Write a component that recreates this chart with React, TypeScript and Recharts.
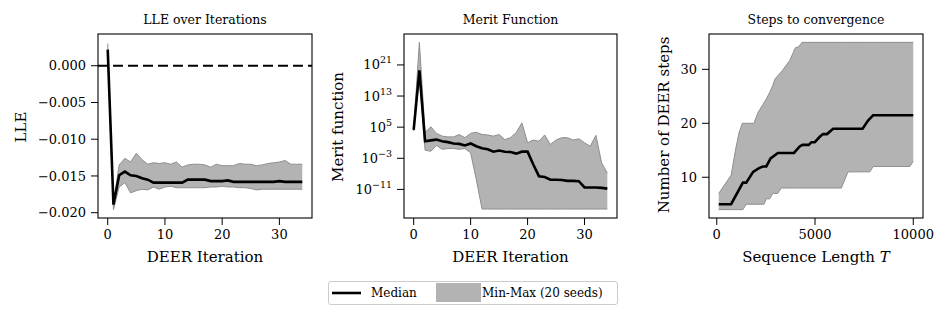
import React from 'react';
import { ComposedChart, Area, Line, XAxis, YAxis, ReferenceLine } from 'recharts';

const FONT = '"DejaVu Serif", serif';

// ---------- Panel 1: LLE over iterations ----------
const iterations = [0, 1, 2, 3, 4, 5, 6, 7, 8, 9, 10, 11, 12, 13, 14, 15, 16, 17, 18, 19, 20, 21, 22, 23, 24, 25, 26, 27, 28, 29, 30, 31, 32, 33, 34];
const lleMedian = [0.0022, -0.0189, -0.0149, -0.0144, -0.0149, -0.015, -0.0153, -0.0155, -0.0159, -0.0159, -0.0159, -0.0159, -0.0159, -0.0159, -0.0155, -0.0155, -0.0155, -0.0155, -0.0157, -0.0157, -0.0157, -0.0156, -0.0158, -0.0158, -0.0158, -0.0158, -0.0158, -0.0158, -0.0158, -0.0158, -0.0157, -0.0158, -0.0158, -0.0158, -0.0158];
const lleMin = [0.0015, -0.0196, -0.0165, -0.0159, -0.0173, -0.017, -0.0168, -0.0169, -0.0165, -0.0168, -0.0165, -0.0164, -0.0166, -0.0166, -0.0166, -0.0166, -0.0166, -0.0166, -0.0165, -0.0165, -0.0164, -0.0165, -0.0165, -0.0166, -0.0166, -0.0167, -0.0169, -0.0168, -0.0168, -0.0168, -0.0168, -0.0168, -0.0168, -0.0168, -0.0168];
const lleMax = [0.003, -0.0186, -0.0135, -0.0126, -0.0131, -0.0119, -0.0128, -0.0134, -0.0132, -0.0133, -0.0132, -0.0134, -0.0131, -0.0138, -0.0135, -0.0134, -0.0134, -0.0135, -0.0138, -0.0134, -0.0136, -0.0136, -0.0136, -0.0133, -0.0134, -0.0134, -0.0136, -0.0135, -0.0133, -0.0132, -0.0131, -0.0129, -0.0134, -0.0134, -0.0134];
const lleTicks = [0, -0.005, -0.01, -0.015, -0.02];
const iterTicks = [0, 10, 20, 30];

// ---------- Panel 2: merit function (log10 values) ----------
const meritMedianLog = [4.3, 19.6, 1.4, 1.6, 1.8, 1.4, 1.15, 0.8, 0.7, 0.3, 0.8, 0.1, -0.4, -0.7, -1.3, -1.0, -1.3, -1.4, -1.8, -1.3, -1.3, -4.6, -7.6, -7.8, -8.5, -8.5, -8.6, -8.8, -8.8, -8.9, -10.5, -10.5, -10.5, -10.6, -10.8];
const meritMinLog = [4.0, 18.0, -0.9, -1.2, 0.3, -0.7, -0.5, -0.5, -0.7, -0.5, -1.6, -8.5, -16.05, -16.05, -16.05, -16.05, -16.05, -16.05, -16.05, -16.05, -16.05, -16.05, -16.05, -16.05, -16.05, -16.05, -16.05, -16.05, -16.05, -16.05, -16.05, -16.05, -16.05, -16.05, -16.05];
const meritMaxLog = [4.6, 26.8, 3.6, 5.1, 3.4, 2.7, 2.5, 2.5, 3.1, 2.3, 3.4, 3.7, 3.1, 3.0, 2.7, 3.1, 1.8, 2.3, 3.6, 6.1, 1.0, 1.7, 1.4, 3.0, 0.55, 1.7, 2.3, 2.3, 1.7, 2.0, 1.0, 0.1, 2.9, -4.2, -6.8];
const meritTickExps = [-11, -3, 5, 13, 21];

// ---------- Panel 3: steps to convergence ----------
const seqLenMedian = [100, 730, 1330, 1500, 1850, 2150, 2350, 2520, 2740, 3110, 3930, 4220, 4360, 4680, 4820, 4990, 5240, 5410, 5610, 5920, 7420, 7700, 7960, 10000];
const stepsMedian = [5, 5, 9, 9, 11, 11.7, 12, 12, 13.5, 14.5, 14.5, 15.7, 16, 16, 16.5, 16.5, 17.5, 18, 18, 19, 19, 20.5, 21.5, 21.5];
const seqLenBand = [100, 735, 950, 1130, 1300, 1330, 1500, 1890, 2100, 2350, 2400, 2520, 2690, 2850, 2950, 3100, 3280, 3340, 3710, 4000, 4170, 4340, 6340, 6680, 7790, 7960, 9830, 10000];
const stepsMin = [4, 4, 4, 4, 4, 4, 5, 5, 5, 5, 5, 6, 6, 7, 7, 7, 8, 8, 8, 8, 8, 8, 8, 11, 11, 12, 12, 13];
const stepsMax = [7, 10.4, 15, 18.2, 20, 20, 20, 20, 22, 23.5, 23.8, 24.5, 25.7, 27, 28.1, 28.8, 29.5, 29.8, 31.6, 34, 34.2, 35, 35, 35, 35, 35, 35, 35];
const seqTicks = [0, 5000, 10000];
const stepsTicks = [10, 20, 30];

// ---------- derived tables ----------
const lleData = iterations.map((x, i) => ({ x, med: lleMedian[i], band: [lleMin[i], lleMax[i]] }));
const meritData = iterations.map((x, i) => ({ x, med: meritMedianLog[i], band: [meritMinLog[i], meritMaxLog[i]] }));
const stepsData = [
  ...seqLenMedian.map((x, i) => ({ x, med: stepsMedian[i], band: [null, null] as any })),
  ...seqLenBand.map((x, i) => ({ x, med: null as any, band: [stepsMin[i], stepsMax[i]] })),
].sort((a, b) => a.x - b.x);

const BAND_FILL = '#b3b3b3';
const BAND_EDGE = '#8e8e8e';
const TICK_STYLE = { fill: '#000', fontSize: 13, fontFamily: FONT };
const minus = (s: string) => s.replace('-', '\u2212');

const H = 260;
const TOP = 34;
const PLOT_BOTTOM = 218;
const XAXIS_H = 30;
const BOTTOM = H - PLOT_BOTTOM - XAXIS_H;

const LogTick = (props: any) => {
  const { x, y, payload } = props;
  const e = payload.value as number;
  return (
    <text x={x} y={y} dy={4.5} textAnchor="end" fontFamily={FONT} fontSize={13} fill="#000">
      10<tspan dy={-6} fontSize={9.5}>{minus(String(e))}</tspan>
    </text>
  );
};

function App() {
  const lleX = [-1.7, 35.7];
  const lleY = [-0.02072, 0.00432];
  const merY = [-18.35, 28.95];
  const stX = [-395, 10495];
  const stY = [2.45, 36.55];

  // plot boxes (left, right) in page pixels; used for frames
  const boxes = [[98, 312], [404, 617], [709, 923]];

  return (
    <div style={{ position: 'absolute', left: 0, top: 0, width: 947, height: 319, background: '#fff' }}>
      {/* Panel 1 */}
      <div style={{ position: 'absolute', left: 0, top: 0 }}>
        <ComposedChart width={330} height={H} data={lleData} margin={{ top: TOP, left: 38, right: 18, bottom: BOTTOM }}>
          <XAxis type="number" dataKey="x" domain={lleX} ticks={iterTicks} interval={0} allowDataOverflow
            height={XAXIS_H} tickSize={7} tickMargin={5} axisLine={false} tickLine={{ stroke: '#000' }} tick={TICK_STYLE} />
          <YAxis type="number" domain={lleY} ticks={lleTicks} interval={0} allowDataOverflow width={60}
            tickSize={7} tickMargin={5} axisLine={false} tickLine={{ stroke: '#000' }} tick={TICK_STYLE}
            tickFormatter={(v: number) => minus(v.toFixed(3))} />
          <Area dataKey="band" type="linear" fill={BAND_FILL} fillOpacity={1} stroke={BAND_EDGE} strokeWidth={1} isAnimationActive={false} dot={false} activeDot={false} />
          <ReferenceLine y={0} stroke="#000" strokeWidth={2} strokeDasharray="10 5" />
          <Line dataKey="med" type="linear" stroke="#000" strokeWidth={2.6} dot={false} activeDot={false} isAnimationActive={false} />
        </ComposedChart>
      </div>

      {/* Panel 2 */}
      <div style={{ position: 'absolute', left: 320, top: 0 }}>
        <ComposedChart width={310} height={H} data={meritData} margin={{ top: TOP, left: 24, right: 13, bottom: BOTTOM }}>
          <XAxis type="number" dataKey="x" domain={lleX} ticks={iterTicks} interval={0} allowDataOverflow
            height={XAXIS_H} tickSize={7} tickMargin={5} axisLine={false} tickLine={{ stroke: '#000' }} tick={TICK_STYLE} />
          <YAxis type="number" domain={merY} ticks={meritTickExps} interval={0} allowDataOverflow width={60}
            tickSize={7} tickMargin={5} axisLine={false} tickLine={{ stroke: '#000' }} tick={<LogTick />} />
          <Area dataKey="band" type="linear" fill={BAND_FILL} fillOpacity={1} stroke={BAND_EDGE} strokeWidth={1} isAnimationActive={false} dot={false} activeDot={false} />
          <Line dataKey="med" type="linear" stroke="#000" strokeWidth={2.6} dot={false} activeDot={false} isAnimationActive={false} />
        </ComposedChart>
      </div>

      {/* Panel 3 */}
      <div style={{ position: 'absolute', left: 640, top: 0 }}>
        <ComposedChart width={307} height={H} data={stepsData} margin={{ top: TOP, left: 19, right: 24, bottom: BOTTOM }}>
          <XAxis type="number" dataKey="x" domain={stX} ticks={seqTicks} interval={0} allowDataOverflow
            height={XAXIS_H} tickSize={7} tickMargin={5} axisLine={false} tickLine={{ stroke: '#000' }} tick={TICK_STYLE} />
          <YAxis type="number" domain={stY} ticks={stepsTicks} interval={0} allowDataOverflow width={50}
            tickSize={7} tickMargin={5} axisLine={false} tickLine={{ stroke: '#000' }} tick={TICK_STYLE} />
          <Area dataKey="band" type="linear" connectNulls fill={BAND_FILL} fillOpacity={1} stroke={BAND_EDGE} strokeWidth={1} isAnimationActive={false} dot={false} activeDot={false} />
          <Line dataKey="med" type="linear" connectNulls stroke="#000" strokeWidth={2.6} dot={false} activeDot={false} isAnimationActive={false} />
        </ComposedChart>
      </div>

      {/* Frames, titles, axis labels, legend */}
      <svg width={947} height={319} style={{ position: 'absolute', left: 0, top: 0, pointerEvents: 'none' }} fontFamily={FONT}>
        {boxes.map(([l, r], i) => (
          <rect key={i} x={l} y={TOP} width={r - l} height={PLOT_BOTTOM - TOP} fill="none" stroke="#000" strokeWidth={1.1} />
        ))}

        <text x={205} y={23.5} textAnchor="middle" fontSize={12.5} fill="#000">LLE over Iterations</text>
        <text x={510.5} y={23.5} textAnchor="middle" fontSize={12.5} fill="#000">Merit Function</text>
        <text x={816} y={23.5} textAnchor="middle" fontSize={12.5} fill="#000">Steps to convergence</text>

        <text x={205} y={262} textAnchor="middle" fontSize={15} fill="#000">DEER Iteration</text>
        <text x={510.5} y={262} textAnchor="middle" fontSize={15} fill="#000">DEER Iteration</text>
        <text x={816} y={262} textAnchor="middle" fontSize={15} fill="#000">Sequence Length <tspan fontStyle="italic">T</tspan></text>

        <text transform="translate(25.5,127) rotate(-90)" textAnchor="middle" fontSize={15} fill="#000">LLE</text>
        <text transform="translate(343,127) rotate(-90)" textAnchor="middle" fontSize={15} fill="#000">Merit function</text>
        <text transform="translate(669,125) rotate(-90)" textAnchor="middle" fontSize={15} fill="#000">Number of DEER steps</text>

        <rect x={328.5} y={281.5} width={289} height={23} rx={2.5} fill="#fff" stroke="#cccccc" strokeWidth={1} />
        <line x1={332} x2={361} y1={293} y2={293} stroke="#000" strokeWidth={2.6} />
        <text x={371} y={297} fontSize={12} fill="#000">Median</text>
        <rect x={436} y={283} width={45} height={19} fill={BAND_FILL} />
        <text x={482} y={297} fontSize={12} fill="#000">Min-Max (20 seeds)</text>
      </svg>
    </div>
  );
}

export default App;
